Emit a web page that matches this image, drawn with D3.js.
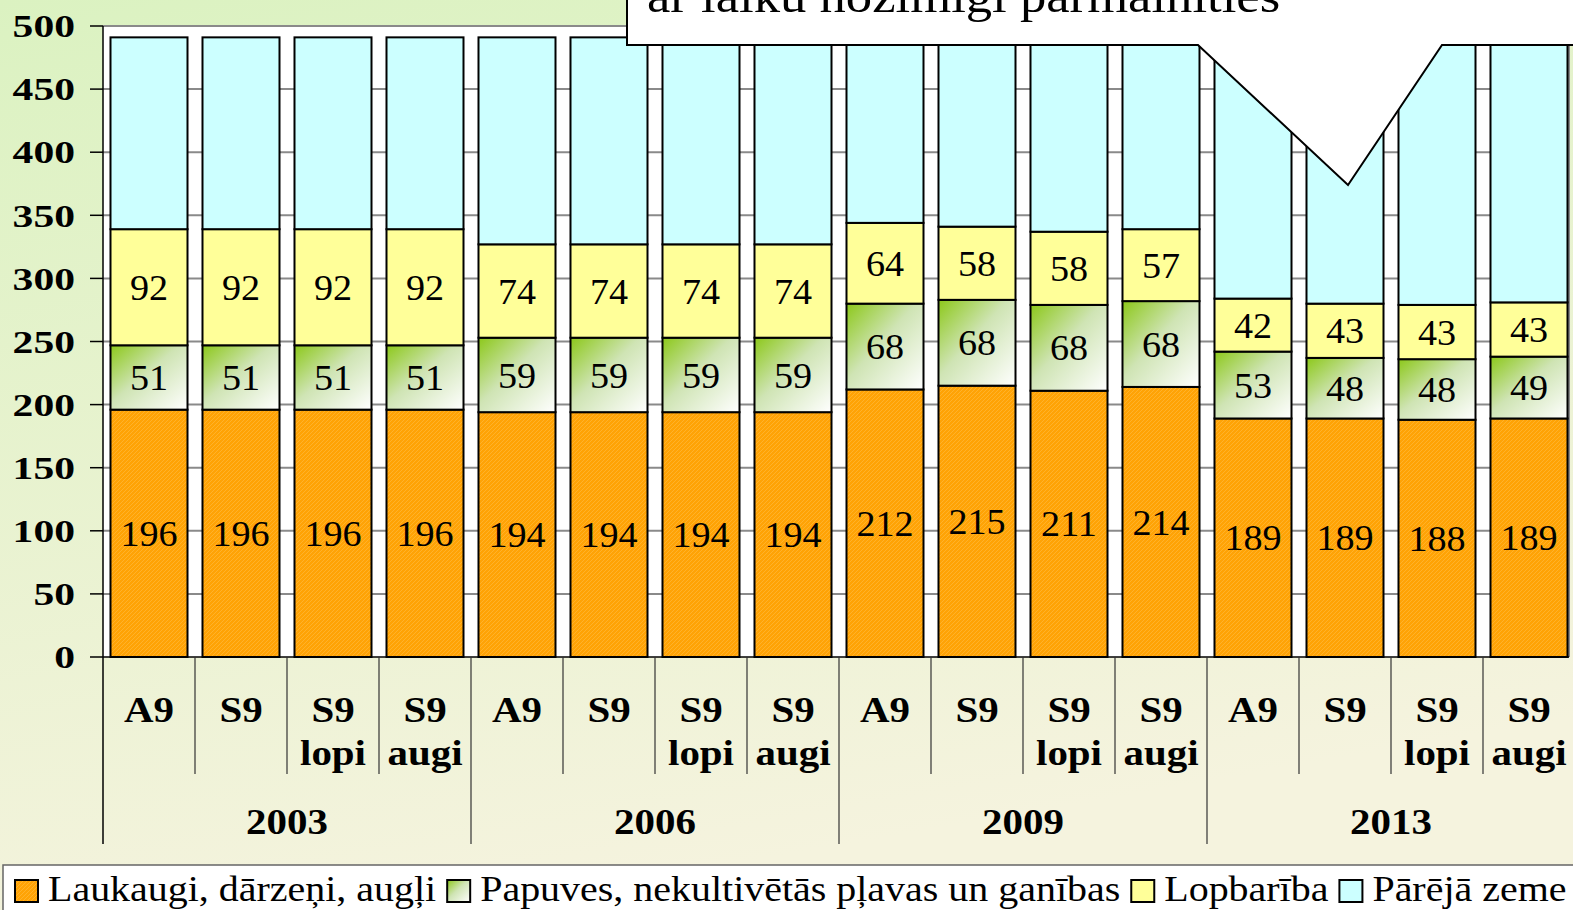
<!DOCTYPE html>
<html>
<head>
<meta charset="utf-8">
<script src="https://cdn.jsdelivr.net/npm/d3@7"></script>
<style>
html, body { margin: 0; padding: 0; overflow: hidden; }
svg { display: block; font-family: "Liberation Serif", "Times New Roman", serif; }
</style>
</head>
<body>
<div id="chart"></div>
<script>
const years = ["2003", "2006", "2009", "2013"];
const scenarios = [["A9"], ["S9"], ["S9", "lopi"], ["S9", "augi"]];
const seriesNames = ["Laukaugi, dārzeņi, augļi", "Papuves, nekultivētās pļavas un ganības", "Lopbarība", "Pārējā zeme"];

const laukaugi  = [196, 196, 196, 196, 194, 194, 194, 194, 212, 215, 211, 214, 189, 189, 188, 189];
const papuves   = [51, 51, 51, 51, 59, 59, 59, 59, 68, 68, 68, 68, 53, 48, 48, 49];
const lopbariba = [92, 92, 92, 92, 74, 74, 74, 74, 64, 58, 58, 57, 42, 43, 43, 43];
const pareja    = [152, 152, 152, 152, 164, 164, 164, 164, 147, 150, 154, 152, 207, 211, 212, 210];

const yTicks = [0, 50, 100, 150, 200, 250, 300, 350, 400, 450, 500];
const calloutText = "ar laiku nozīmīgi pārmainīties";

const W = 1573, H = 910;
const svg = d3.select("#chart").append("svg").attr("width", W).attr("height", H);
const defs = svg.append("defs");

const bg = defs.append("linearGradient").attr("id", "bg").attr("x1", 0).attr("y1", 0).attr("x2", 0.3).attr("y2", 1);
bg.append("stop").attr("offset", "0%").attr("stop-color", "#dbf2c1");
bg.append("stop").attr("offset", "100%").attr("stop-color", "#f5f3de");

const green = defs.append("linearGradient").attr("id", "green").attr("x1", 0).attr("y1", 0).attr("x2", 1).attr("y2", 1);
green.append("stop").attr("offset", "0%").attr("stop-color", "#8cc81a");
green.append("stop").attr("offset", "45%").attr("stop-color", "#cfe4b4");
green.append("stop").attr("offset", "100%").attr("stop-color", "#ffffff");

const pat = defs.append("pattern").attr("id", "orange").attr("width", 4).attr("height", 4)
  .attr("patternUnits", "userSpaceOnUse");
pat.append("rect").attr("width", 4).attr("height", 4).attr("fill", "#ffa305");
pat.append("path").attr("d", "M0,4 L4,0").attr("stroke", "#ffb22a").attr("stroke-width", 1);

const fills = ["url(#orange)", "url(#green)", "#ffff99", "#ccffff"];

svg.append("rect").attr("width", W).attr("height", H).attr("fill", "url(#bg)");

const plotLeft = 103, plotRight = 1569, plotTop = 26, plotBottom = 657;

const x = d3.scaleBand().domain(d3.range(16)).range([plotLeft, 1575]).paddingInner(0.163).paddingOuter(0.0815);
const y = d3.scaleLinear().domain([0, 500]).range([plotBottom, plotTop]);

svg.append("rect").attr("x", plotLeft).attr("y", plotTop).attr("width", plotRight - plotLeft).attr("height", plotBottom - plotTop)
  .attr("fill", "#fff");

// gridlines
svg.append("g").selectAll("line").data(yTicks.slice(1)).join("line")
  .attr("x1", plotLeft).attr("x2", plotRight)
  .attr("y1", d => y(d)).attr("y2", d => y(d))
  .attr("stroke", "#8a8a8a").attr("stroke-width", 2);

svg.append("line").attr("x1", plotRight).attr("x2", plotRight).attr("y1", plotTop).attr("y2", plotBottom)
  .attr("stroke", "#8a8a8a").attr("stroke-width", 2);

const rows = d3.range(16).map(i => ({ i, a: laukaugi[i], b: papuves[i], c: lopbariba[i], d: pareja[i] }));
const stacked = d3.stack().keys(["a", "b", "c", "d"])(rows);

const clip = defs.append("clipPath").attr("id", "plotclip");
clip.append("rect").attr("x", 0).attr("y", 0).attr("width", plotRight).attr("height", H);

const bars = svg.append("g").attr("clip-path", "url(#plotclip)");
stacked.forEach((s, k) => {
  bars.append("g").selectAll("rect").data(s).join("rect")
    .attr("x", d => x(d.data.i))
    .attr("width", x.bandwidth())
    .attr("y", d => y(d[1]))
    .attr("height", d => y(d[0]) - y(d[1]))
    .attr("fill", fills[k])
    .attr("stroke", "#000").attr("stroke-width", 2);
});

// segment labels
stacked.slice(0, 3).forEach(s => {
  svg.append("g").selectAll("text").data(s).join("text")
    .attr("transform", d => `translate(${x(d.data.i) + x.bandwidth() / 2},${(y(d[0]) + y(d[1])) / 2}) scale(1.06,1)`)
    .attr("dy", "0.35em")
    .attr("text-anchor", "middle")
    .attr("font-size", 36)
    .attr("fill", "#000")
    .text(d => d[1] - d[0]);
});

// y axis
svg.append("line").attr("x1", plotLeft).attr("x2", plotLeft).attr("y1", plotTop).attr("y2", 844)
  .attr("stroke", "#000").attr("stroke-width", 1.5);
svg.append("g").selectAll("line").data(yTicks).join("line")
  .attr("x1", 90).attr("x2", plotLeft)
  .attr("y1", d => y(d)).attr("y2", d => y(d))
  .attr("stroke", "#000").attr("stroke-width", 1.5);
svg.append("line").attr("x1", plotLeft).attr("x2", plotRight).attr("y1", plotBottom).attr("y2", plotBottom)
  .attr("stroke", "#000").attr("stroke-width", 1.5);
svg.append("g").selectAll("text").data(yTicks).join("text")
  .attr("transform", d => `translate(75,${y(d)}) scale(1.3,1)`)
  .attr("dy", "0.35em")
  .attr("text-anchor", "end")
  .attr("font-size", 32)
  .attr("font-weight", "bold")
  .text(d => d);

// x axis separators and labels
const gap = (x.step() - x.bandwidth()) / 2;
const boundary = i => x(0) - gap + i * x.step();
svg.append("g").selectAll("line").data(d3.range(1, 17)).join("line")
  .attr("x1", d => boundary(d)).attr("x2", d => boundary(d))
  .attr("y1", plotBottom).attr("y2", d => d % 4 === 0 ? 844 : 774)
  .attr("stroke", "#333").attr("stroke-width", 1.2);

const xl = svg.append("g").selectAll("text").data(d3.range(16)).join("text")
  .attr("transform", d => `translate(${x(d) + x.bandwidth() / 2},710) scale(1.17,1)`)
  .attr("text-anchor", "middle")
  .attr("font-size", 35)
  .attr("font-weight", "bold");
xl.selectAll("tspan").data(d => scenarios[d % 4]).join("tspan")
  .attr("x", 0)
  .attr("dy", (d, j) => j === 0 ? "0.35em" : 43)
  .text(d => d);

svg.append("g").selectAll("text").data(years).join("text")
  .attr("transform", (d, g) => `translate(${(boundary(g * 4) + boundary(g * 4 + 4)) / 2},822) scale(1.17,1)`)
  .attr("dy", "0.35em")
  .attr("text-anchor", "middle")
  .attr("font-size", 35)
  .attr("font-weight", "bold")
  .text(d => d);

// callout
svg.append("path")
  .attr("d", "M627,-10 L1590,-10 L1590,45 L1442,45 L1348,185 L1198,45 L627,45 Z")
  .attr("fill", "#fff").attr("stroke", "#000").attr("stroke-width", 2);
svg.append("text").attr("transform", "translate(647,12) scale(1.145,1)").attr("font-size", 46).text(calloutText);

// legend
svg.append("rect").attr("x", 3).attr("y", 865).attr("width", 1600).attr("height", 60)
  .attr("fill", "#fff").attr("stroke", "#666").attr("stroke-width", 1.5);
const stretch = 1.11;
let lx = 15;
seriesNames.forEach((name, k) => {
  svg.append("rect").attr("x", lx).attr("y", 880).attr("width", 23).attr("height", 22)
    .attr("fill", fills[k]).attr("stroke", "#000").attr("stroke-width", 2);
  const t = svg.append("text").attr("transform", `translate(${lx + 33},901) scale(${stretch},1)`)
    .attr("font-size", 36).text(name);
  lx += 33 + t.node().getComputedTextLength() * stretch + 11;
});
</script>
</body>
</html>
